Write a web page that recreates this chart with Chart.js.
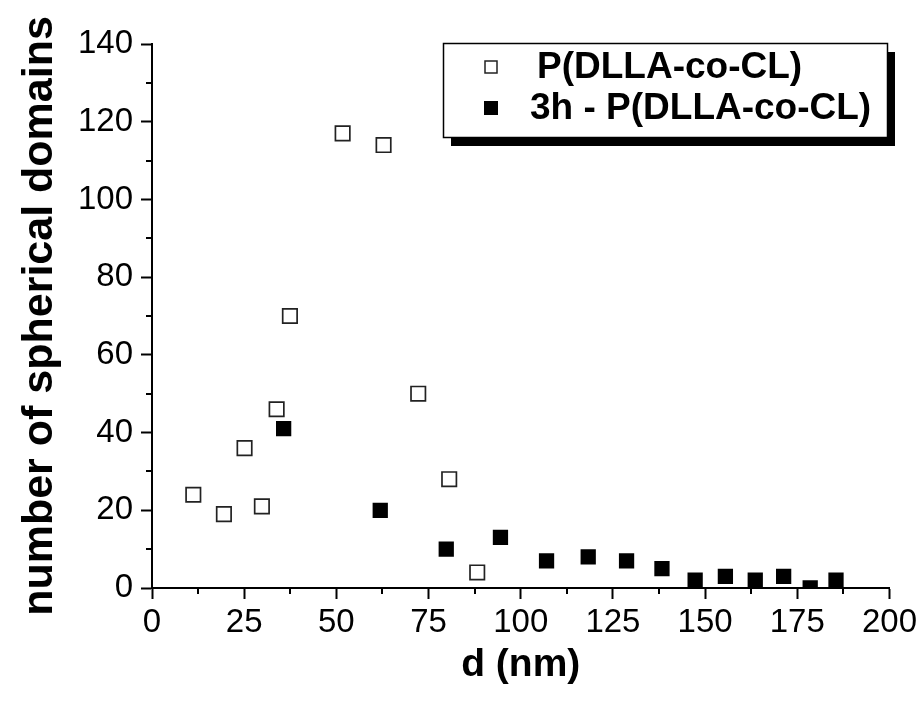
<!DOCTYPE html>
<html>
<head>
<meta charset="utf-8">
<script src="https://cdn.jsdelivr.net/npm/chart.js@4.4.0/dist/chart.umd.min.js"></script>
<style>
  html, body { margin: 0; padding: 0; background: #ffffff; }
  #wrap { width: 921px; height: 703px; position: relative; }
  canvas { display: block; }
</style>
</head>
<body>
<div id="wrap"><canvas id="c" width="921" height="703"></canvas></div>
<script>
// ---- data ----
const seriesNames = ["P(DLLA-co-CL)", "3h - P(DLLA-co-CL)"];
const pristineD     = [11.2, 19.5, 25.1, 29.8, 33.8, 37.4, 51.7, 62.8, 72.2, 80.6, 88.2];
const pristineCount = [24, 19, 36, 21, 46, 70, 117, 114, 50, 28, 4];
const treatedD      = [35.7, 61.9, 79.8, 94.5, 107, 118.3, 128.7, 138.3, 147.3, 155.5, 163.6, 171.3, 178.5, 185.5];
const treatedCount  = [41, 20, 10, 13, 7, 8, 7, 5, 2, 3, 2, 3, 0, 2];
const xTickValues = [0, 25, 50, 75, 100, 125, 150, 175, 200];
const yTickValues = [0, 20, 40, 60, 80, 100, 120, 140];
const xTitle = "d (nm)";
const yTitle = "number of spherical domains";

const FONT = "'Liberation Sans', Arial, Helvetica, sans-serif";

function toPoints(xs, ys) { return xs.map((x, i) => ({ x: x, y: ys[i] })); }

// minor ticks + frame
const framePlugin = {
  id: 'frameMinor',
  afterDraw(chart) {
    const ctx = chart.ctx, a = chart.chartArea;
    const xs = chart.scales.x, ys = chart.scales.y;
    ctx.save();
    ctx.strokeStyle = '#000';
    ctx.lineWidth = 2;
    ctx.beginPath();
    for (let i = 0; i < xTickValues.length - 1; i++) {
      const v = (xTickValues[i] + xTickValues[i + 1]) / 2;
      const px = Math.round(xs.getPixelForValue(v));
      ctx.moveTo(px, a.bottom); ctx.lineTo(px, a.bottom + 6);
    }
    for (let i = 0; i < yTickValues.length - 1; i++) {
      const v = (yTickValues[i] + yTickValues[i + 1]) / 2;
      const py = Math.round(ys.getPixelForValue(v));
      ctx.moveTo(a.left, py); ctx.lineTo(a.left - 6, py);
    }
    ctx.stroke();
    ctx.restore();
  }
};

const legendPlugin = {
  id: 'boxLegend',
  afterDraw(chart) {
    const ctx = chart.ctx;
    const bx = 443, by = 43, bw = 444, bh = 94;
    ctx.save();
    ctx.fillStyle = '#000';
    ctx.fillRect(bx + 8, by + 9, bw, bh);
    ctx.fillStyle = '#fff';
    ctx.fillRect(bx, by, bw, bh);
    ctx.strokeStyle = '#000';
    ctx.lineWidth = 1.5;
    ctx.strokeRect(bx + 0.5, by + 0.5, bw, bh);
    const ds = chart.data.datasets;
    const rows = [67, 108];
    const textX = [537, 530];
    ctx.font = "bold 37px " + FONT;
    ctx.textBaseline = 'middle';
    ctx.textAlign = 'left';
    ds.forEach((d, i) => {
      const cy = rows[i];
      const s = 12;
      if (d.pointBackgroundColor === '#ffffff') {
        ctx.fillStyle = '#fff';
        ctx.fillRect(485, cy - s / 2, s, s);
        ctx.strokeStyle = '#222';
        ctx.lineWidth = 1.5;
        ctx.strokeRect(485, cy - s / 2, s, s);
      } else {
        ctx.fillStyle = '#000';
        ctx.fillRect(484, cy - 7, 14, 14);
      }
      ctx.fillStyle = '#000';
      ctx.fillText(d.label, textX[i], cy + 1);
    });
    ctx.restore();
  }
};

new Chart(document.getElementById('c'), {
  type: 'scatter',
  data: {
    datasets: [
      {
        label: seriesNames[0],
        data: toPoints(pristineD, pristineCount),
        pointStyle: 'rect',
        pointRadius: 10.2,
        pointHoverRadius: 10.2,
        pointBackgroundColor: '#ffffff',
        pointBorderColor: '#222222',
        pointBorderWidth: 1.7,
        clip: 0
      },
      {
        label: seriesNames[1],
        data: toPoints(treatedD, treatedCount),
        pointStyle: 'rect',
        pointRadius: 10.8,
        pointHoverRadius: 10.8,
        pointBackgroundColor: '#000000',
        pointBorderColor: '#000000',
        pointBorderWidth: 0,
        clip: 0
      }
    ]
  },
  options: {
    responsive: false,
    animation: false,
    devicePixelRatio: 1,
    layout: { padding: { left: 0, top: 44, right: 29, bottom: 0 } },
    plugins: {
      legend: { display: false },
      tooltip: { enabled: false }
    },
    scales: {
      x: {
        type: 'linear',
        min: 0, max: 200,
        afterBuildTicks(scale) { scale.ticks = xTickValues.map(v => ({ value: v })); },
        afterFit(scale) { scale.height = 115; },
        ticks: {
          color: '#000',
          font: { family: FONT, size: 33 },
          padding: 4,
          maxRotation: 0,
          autoSkip: false
        },
        grid: { drawOnChartArea: false, drawTicks: true, tickLength: 11, tickWidth: 2, tickColor: '#000' },
        border: { display: true, color: '#000', width: 2 },
        title: {
          display: true, text: xTitle, color: '#000',
          font: { family: FONT, size: 39, weight: 'bold' },
          padding: { top: 0, bottom: 14 }
        }
      },
      y: {
        type: 'linear',
        min: 0, max: 140,
        afterBuildTicks(scale) { scale.ticks = yTickValues.map(v => ({ value: v })); },
        afterFit(scale) { scale.width = 152; },
        ticks: {
          color: '#000',
          font: { family: FONT, size: 33 },
          padding: 8,
          autoSkip: false
        },
        grid: { drawOnChartArea: false, drawTicks: true, tickLength: 11, tickWidth: 2, tickColor: '#000' },
        border: { display: true, color: '#000', width: 2 },
        title: {
          display: true, text: yTitle, color: '#000',
          font: { family: FONT, size: 43, weight: 'bold' },
          padding: { top: 14, bottom: 0 }
        }
      }
    }
  },
  plugins: [framePlugin, legendPlugin]
});
</script>
</body>
</html>
